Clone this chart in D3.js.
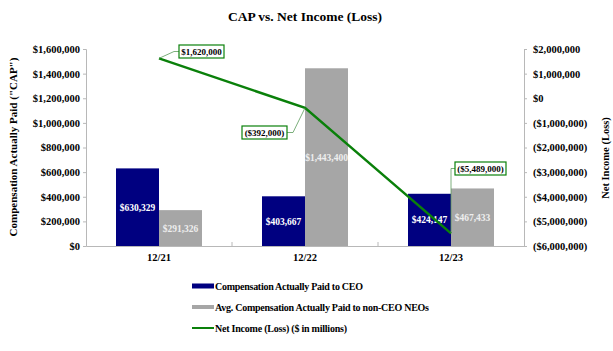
<!DOCTYPE html>
<html>
<head>
<meta charset="utf-8">
<script src="https://cdn.jsdelivr.net/npm/d3@7"></script>
<style>
body { margin: 0; background: #fff; }
text { font-family: "Liberation Serif", "Times New Roman", serif; font-weight: bold; }
</style>
</head>
<body>
<div id="chart"></div>
<script>
const years = ['12/21', '12/22', '12/23']
const ceoCap = [630329, 403667, 424147]
const neoCap = [291326, 1443400, 467433]
const netIncome = [1620000, -392000, -5489000]
const netLabels = ['$1,620,000', '($392,000)', '($5,489,000)']
const leftTicks = [0, 200000, 400000, 600000, 800000, 1000000, 1200000, 1400000, 1600000]
const rightTicks = [2000000, 1000000, 0, -1000000, -2000000, -3000000, -4000000, -5000000, -6000000]
const legendLabels = ['Compensation Actually Paid to CEO', 'Avg. Compensation Actually Paid to non-CEO NEOs', 'Net Income (Loss) ($ in millions)']

const width = 613, height = 351
const margin = { top: 49, right: 89, bottom: 105, left: 86 }

let svg = d3.select('#chart')
.append('svg')
.attr('width', width)
.attr('height', height)

let x = d3.scaleBand()
.domain(years)
.range([margin.left, width - margin.right])

let xSub = d3.scaleBand()
.domain(['ceo', 'neo'])
.range([0, 86])

let yLeft = d3.scaleLinear()
.domain([0, 1600000])
.range([height - margin.bottom, margin.top])

let yRight = d3.scaleLinear()
.domain([-6000000, 2000000])
.range([height - margin.bottom, margin.top])

const fmt = d3.format('$,')
const fmtNeg = v => v < 0 ? '(' + fmt(-v) + ')' : fmt(v)

// title
svg.append('text')
.attr('x', 305).attr('y', 21)
.attr('text-anchor', 'middle')
.style('font-size', '13.5px')
.text('CAP vs. Net Income (Loss)')

// axes
let gl = svg.append('g')
.attr('transform', `translate(${margin.left},0)`)
.call(d3.axisLeft(yLeft).tickValues(leftTicks).tickFormat(fmt).tickSize(3).tickPadding(3))
let gr = svg.append('g')
.attr('transform', `translate(${width - margin.right},0)`)
.call(d3.axisRight(yRight).tickValues(rightTicks).tickFormat(fmtNeg).tickSize(3).tickPadding(6))
let gx = svg.append('g')
.attr('transform', `translate(0,${height - margin.bottom})`)
.call(d3.axisBottom(x).tickSize(0).tickPadding(8))

for (const g of [gl, gr, gx]) {
	g.attr('font-family', null).attr('font-size', null)
	g.selectAll('path, line').attr('stroke', '#b8b8b8')
	g.selectAll('text').style('font-size', '10.5px').attr('fill', '#000')
}

// category separators
svg.append('g')
.selectAll('line')
.data(years.slice(1))
.join('line')
.attr('x1', d => x(d)).attr('x2', d => x(d))
.attr('y1', height - margin.bottom).attr('y2', height - margin.bottom - 4)
.attr('stroke', '#b8b8b8')

// axis titles
svg.append('text')
.attr('transform', 'translate(17,147) rotate(-90)')
.attr('text-anchor', 'middle')
.style('font-size', '11px')
.text('Compensation Actually Paid ("CAP")')
svg.append('text')
.attr('transform', 'translate(609,158) rotate(-90)')
.attr('text-anchor', 'middle')
.style('font-size', '10.5px')
.text('Net Income (Loss)')

// bars
const barData = years.flatMap((yr, i) => [
	{ yr, key: 'ceo', v: ceoCap[i] },
	{ yr, key: 'neo', v: neoCap[i] }
])
const barColor = { ceo: '#000080', neo: '#a6a6a6' }
const labelColor = { ceo: '#ffffff', neo: '#eeeeee' }
const off = (x.bandwidth() - 86) / 2

svg.selectAll('.bar')
.data(barData)
.join('rect')
.attr('class', 'bar')
.attr('x', d => x(d.yr) + off + xSub(d.key))
.attr('width', xSub.bandwidth())
.attr('y', d => yLeft(d.v))
.attr('height', d => yLeft(0) - yLeft(d.v))
.attr('fill', d => barColor[d.key])

svg.selectAll('.barlabel')
.data(barData)
.join('text')
.attr('class', 'barlabel')
.attr('x', d => x(d.yr) + off + xSub(d.key) + xSub.bandwidth() / 2)
.attr('y', d => (yLeft(d.v) + yLeft(0)) / 2 + 3.5)
.attr('text-anchor', 'middle')
.attr('fill', d => labelColor[d.key])
.style('font-size', '9.5px')
.text(d => fmt(d.v))

// net income line
const cx = d => x(d) + x.bandwidth() / 2
svg.append('path')
.datum(years)
.attr('fill', 'none')
.attr('stroke', '#0a800a')
.attr('stroke-width', 2.5)
.attr('d', d3.line().x(d => cx(d)).y((d, i) => yRight(netIncome[i])))

// line labels with leaders
const boxes = [
	{ bx: 179, by: 45, w: 45 },
	{ bx: 242, by: 126, w: 45 },
	{ bx: 455, by: 162, w: 51 }
]
boxes.forEach((b, i) => {
	const px = cx(years[i]), py = yRight(netIncome[i])
	const my = b.by + 6.5
	let pts
	if (i == 0) pts = [[px, py], [b.bx - 5, my], [b.bx, my]]
	else if (i == 1) pts = [[px, py], [b.bx + b.w + 6, my], [b.bx + b.w, my]]
	else pts = [[px, py], [px, my], [b.bx, my]]
	svg.append('path')
	.attr('d', d3.line()(pts))
	.attr('fill', 'none')
	.attr('stroke', '#5a9a5a')
	.attr('stroke-width', 0.8)
	svg.append('rect')
	.attr('x', b.bx).attr('y', b.by)
	.attr('width', b.w).attr('height', 13)
	.attr('fill', '#fff')
	.attr('stroke', '#0a800a')
	.attr('stroke-width', 1.2)
	svg.append('text')
	.attr('x', b.bx + b.w / 2).attr('y', b.by + 10)
	.attr('text-anchor', 'middle')
	.style('font-size', '9px')
	.text(netLabels[i])
})

// legend
const legendColors = ['#000080', '#a6a6a6', '#0a800a']
const swatchH = [5, 4, 2]
const labelW = [148, 214, 132]
let lg = svg.append('g')
.selectAll('g')
.data(legendLabels)
.join('g')
.attr('transform', (d, i) => `translate(192,${286 + i * 21})`)
lg.append('rect')
.attr('x', 0)
.attr('y', (d, i) => -swatchH[i] / 2)
.attr('width', 22)
.attr('height', (d, i) => swatchH[i])
.attr('fill', (d, i) => legendColors[i])
lg.append('text')
.attr('x', 23).attr('y', 3.5)
.style('font-size', '10px')
.attr('textLength', (d, i) => labelW[i])
.attr('lengthAdjust', 'spacing')
.text(d => d)
</script>
</body>
</html>
